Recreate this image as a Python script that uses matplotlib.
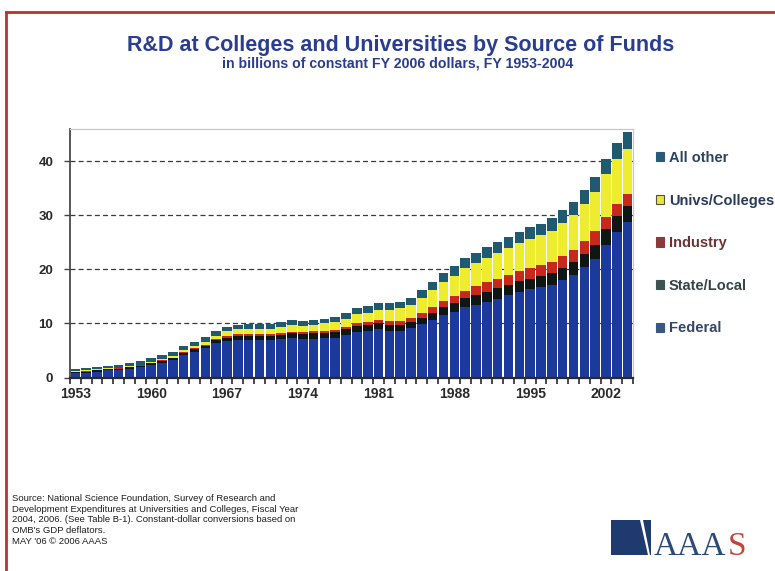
import matplotlib
matplotlib.use("Agg")
import matplotlib.pyplot as plt
from matplotlib.patches import Patch, Polygon
import numpy as np

years = list(range(1953, 2005))
federal = [0.8, 0.9, 1.1, 1.3, 1.4, 1.6, 1.9, 2.3, 2.7, 3.2, 4.1, 4.8, 5.4, 6.3,
           6.8, 7.0, 7.0, 6.9, 6.9, 7.1, 7.3, 7.1, 7.2, 7.3, 7.4, 7.9, 8.5, 8.7,
           8.9, 8.7, 8.7, 9.1, 9.9, 10.6, 11.5, 12.1, 13.0, 13.5, 14.0, 14.5, 15.2,
           15.8, 16.3, 16.7, 17.2, 18.1, 19.0, 20.5, 22.0, 24.6, 27.0, 28.8]
state_local = [0.2, 0.2, 0.2, 0.2, 0.2, 0.3, 0.3, 0.3, 0.4, 0.4, 0.4, 0.5, 0.5, 0.6,
               0.6, 0.7, 0.7, 0.8, 0.8, 0.8, 0.9, 0.9, 1.0, 1.0, 1.0, 1.0, 1.1, 1.1,
               1.1, 1.1, 1.1, 1.1, 1.2, 1.3, 1.5, 1.6, 1.7, 1.8, 1.9, 2.0, 2.0,
               2.0, 2.0, 2.1, 2.1, 2.2, 2.3, 2.4, 2.6, 2.8, 2.9, 3.0]
industry = [0.1, 0.1, 0.1, 0.1, 0.1, 0.1, 0.1, 0.1, 0.1, 0.1, 0.2, 0.2, 0.2, 0.3,
            0.3, 0.3, 0.3, 0.3, 0.3, 0.3, 0.3, 0.4, 0.4, 0.4, 0.4, 0.5, 0.5, 0.5,
            0.6, 0.6, 0.7, 0.8, 0.9, 1.1, 1.2, 1.3, 1.4, 1.6, 1.7, 1.8, 1.8,
            1.9, 2.0, 2.0, 2.1, 2.2, 2.3, 2.4, 2.5, 2.4, 2.3, 2.2]
univs = [0.1, 0.1, 0.1, 0.1, 0.1, 0.1, 0.1, 0.2, 0.2, 0.2, 0.3, 0.3, 0.4, 0.5,
         0.9, 1.0, 1.0, 1.0, 1.0, 1.1, 1.2, 1.2, 1.2, 1.3, 1.4, 1.5, 1.6, 1.7,
         1.9, 2.1, 2.3, 2.5, 2.8, 3.2, 3.5, 3.8, 4.1, 4.3, 4.6, 4.8, 5.0,
         5.2, 5.3, 5.5, 5.8, 6.1, 6.4, 6.9, 7.3, 7.8, 8.2, 8.3]
all_other = [0.3, 0.4, 0.4, 0.5, 0.5, 0.5, 0.6, 0.7, 0.7, 0.8, 0.8, 0.8, 1.0, 0.9,
             0.8, 0.8, 0.9, 0.9, 0.9, 0.9, 0.9, 0.9, 0.9, 0.9, 1.0, 1.0, 1.1, 1.2,
             1.2, 1.2, 1.2, 1.3, 1.4, 1.5, 1.6, 1.8, 1.9, 1.9, 2.0, 2.0, 2.1,
             2.1, 2.2, 2.2, 2.3, 2.4, 2.4, 2.6, 2.7, 2.8, 3.1, 3.2]

series_names = ["Federal", "State/Local", "Industry", "Univs/Colleges", "All other"]
series_vals = [federal, state_local, industry, univs, all_other]
bar_colors = ["#1c3a9c", "#0e1714", "#c8281a", "#eeec2e", "#1f5a70"]
legend_colors = ["#3a5684", "#3d5453", "#8a3a3a", "#e6e640", "#2a5a7a"]
legend_text_colors = ["#34466a", "#354545", "#6a3434", "#2a3a5a", "#28445e"]
xlabel_years = [1953, 1960, 1967, 1974, 1981, 1988, 1995, 2002]
ytick_vals = [0, 10, 20, 30, 40]

W, H = 775, 571
fig = plt.figure(figsize=(W / 100, H / 100), dpi=100)
fig.patch.set_facecolor("white")

def fx(px):
    return px / W

def fy(py):
    return 1 - py / H

ax = fig.add_axes([fx(70), fy(377.5), fx(633) - fx(70), fy(129) - fy(377.5)])

x = np.arange(len(years))
bottom = np.zeros(len(years))
for name, vals, col in zip(series_names, series_vals, bar_colors):
    v = np.array(vals)
    ax.bar(x, v, bottom=bottom, width=0.88, color=col, linewidth=0, zorder=3)
    bottom += v

ax.set_xlim(-0.5, len(years) - 0.5)
ax.set_ylim(0, 46)

for yv in ytick_vals[1:]:
    ax.axhline(yv, color="#3a3a3a", lw=0.9, ls=(0, (4, 2.5)), zorder=1)

ax.set_yticks(ytick_vals)
ax.set_yticklabels([str(v) for v in ytick_vals], fontweight="bold", fontsize=9.5,
                   color="#2a2a2a", family="Liberation Sans")
ax.tick_params(axis="y", direction="out", length=4, width=1, color="#444444", pad=8)

ax.set_xticks(np.arange(len(years) + 1) - 0.5)
ax.set_xticklabels([])
ax.tick_params(axis="x", which="major", direction="out", length=4, width=1.2,
               color="#2a2a2a")
ax.set_xticks([years.index(y) for y in xlabel_years], minor=True)
ax.set_xticklabels([str(y) for y in xlabel_years], minor=True, fontweight="bold",
                   fontsize=10, color="#2a2a2a", family="Liberation Sans")
ax.tick_params(axis="x", which="minor", length=0, pad=7)

ax.spines["left"].set_color("#4a4a4a")
ax.spines["left"].set_linewidth(1.3)
ax.spines["bottom"].set_color("#2a2a2a")
ax.spines["bottom"].set_linewidth(1.6)
ax.spines["top"].set_color("#c8c8c8")
ax.spines["top"].set_linewidth(0.9)
ax.spines["right"].set_color("#c8c8c8")
ax.spines["right"].set_linewidth(0.9)
for s in ax.spines.values():
    s.set_zorder(4)

handles = [Patch(facecolor=c, edgecolor=("#555533" if n == "Univs/Colleges" else c),
                 linewidth=0.8, label=n)
           for n, c in zip(series_names, legend_colors)][::-1]
leg = fig.legend(handles=handles, loc="upper left",
                 bbox_to_anchor=(fx(656), fy(151)), frameon=False,
                 prop={"family": "Liberation Sans", "weight": "bold", "size": 10.5},
                 handlelength=0.58, handleheight=0.58, handletextpad=0.3,
                 labelspacing=1.96, borderpad=0, borderaxespad=0)
for t, c in zip(leg.get_texts(), legend_text_colors[::-1]):
    t.set_color(c)

fig.text(fx(401), fy(46), "R&D at Colleges and Universities by Source of Funds",
         ha="center", va="center", fontsize=15.5, fontweight="bold",
         color="#2b3d8e", family="Liberation Sans")
fig.text(fx(398), fy(64), "in billions of constant FY 2006 dollars, FY 1953-2004",
         ha="center", va="center", fontsize=10.2, fontweight="bold",
         color="#2b3d8e", family="Liberation Sans")

source = ("Source: National Science Foundation, Survey of Research and\n"
          "Development Expenditures at Universities and Colleges, Fiscal Year\n"
          "2004, 2006. (See Table B-1). Constant-dollar conversions based on\n"
          "OMB's GDP deflators.\n"
          "MAY '06 \u00a9 2006 AAAS")
fig.text(fx(12), fy(494), source, ha="left", va="top", fontsize=6.8,
         linespacing=1.25, color="#1e1e1e", family="Liberation Sans")

# AAAS logo
fig.patches.append(Polygon([(fx(611), fy(520)), (fx(640), fy(520)), (fx(648), fy(555)),
                            (fx(611), fy(555))], closed=True, transform=fig.transFigure,
                           facecolor="#1e3a6e", edgecolor="none"))
fig.patches.append(Polygon([(fx(643), fy(520)), (fx(651), fy(520)), (fx(651), fy(555)),
                            (fx(650), fy(555))], closed=True, transform=fig.transFigure,
                           facecolor="#1e3a6e", edgecolor="none"))
t_aaa = fig.text(fx(654), fy(555), "AAA", ha="left", va="baseline", fontsize=24,
                 color="#2c4a78", family="Liberation Serif")
fig.canvas.draw()
bb = t_aaa.get_window_extent(renderer=fig.canvas.get_renderer())
fig.text((bb.x1 + 1.5) / W, fy(555), "S", ha="left", va="baseline", fontsize=24,
         color="#c0453c", family="Liberation Serif")

# red border (top and left)
fig.add_artist(plt.Line2D([fx(6), 1.0], [fy(11.5), fy(11.5)], transform=fig.transFigure,
                          color="#c0302a", lw=2.0))
fig.add_artist(plt.Line2D([fx(6), fx(6)], [fy(11.5), 0.0], transform=fig.transFigure,
                          color="#c0302a", lw=2.0))

fig.savefig("out.png", dpi=100, facecolor="white")
